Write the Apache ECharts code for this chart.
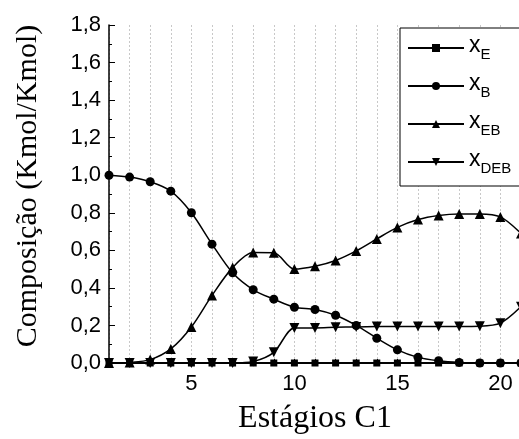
<!DOCTYPE html>
<html>
<head>
<meta charset="utf-8">
<script src="https://cdn.jsdelivr.net/npm/echarts@6/dist/echarts.min.js"></script>
<style>
  html, body { margin: 0; padding: 0; background: #fff; }
  #chart { width: 519px; height: 439px; }
</style>
</head>
<body>
<div id="chart"></div>
<script>
// stages of column C1
const stages = [1, 2, 3, 4, 5, 6, 7, 8, 9, 10, 11, 12, 13, 14, 15, 16, 17, 18, 19, 20, 21];

// composition profiles
const xE   = [0, 0, 0, 0, 0, 0, 0, 0, 0, 0, 0, 0, 0, 0, 0, 0, 0, 0, 0, 0, 0];
const xB   = [1.0, 0.99, 0.965, 0.915, 0.80, 0.633, 0.48, 0.39, 0.34, 0.297, 0.285, 0.254, 0.20, 0.132, 0.07, 0.03, 0.012, 0.003, 0, 0, 0];
const xEB  = [0, 0.003, 0.018, 0.075, 0.192, 0.36, 0.508, 0.588, 0.587, 0.50, 0.515, 0.546, 0.597, 0.661, 0.722, 0.764, 0.786, 0.794, 0.794, 0.778, 0.69];
const xDEB = [0, 0, 0, 0, 0, 0, 0, 0.008, 0.057, 0.187, 0.187, 0.19, 0.192, 0.194, 0.195, 0.195, 0.195, 0.195, 0.196, 0.212, 0.30];

const names = ['xE', 'xB', 'xEB', 'xDEB'];
const subs = { xE: 'E', xB: 'B', xEB: 'EB', xDEB: 'DEB' };

const chart = echarts.init(document.getElementById('chart'));

function pairs(arr) {
    return stages.map((s, i) => [s, arr[i]]);
}

function makeSeries(name, data, symbol, size, rotate) {
    return {
        name: name,
        type: 'line',
        data: pairs(data),
        smooth: 0.3,
        symbol: symbol,
        symbolSize: size,
        symbolRotate: rotate || 0,
        showAllSymbol: true,
        lineStyle: { color: '#000', width: 1.5 },
        itemStyle: { color: '#000' },
        clip: false
    };
}

const option = {
    animation: false,
    backgroundColor: '#fff',
    grid: { left: 109, top: 25, right: -2, bottom: 76, containLabel: false, outerBoundsMode: 'none' },
    legend: {
        orient: 'vertical',
        left: 400,
        top: 28,
        width: 130,
        padding: [6, 30, 10, 7],
        itemGap: 10,
        itemWidth: 56,
        itemHeight: 10,
        borderColor: '#000',
        borderWidth: 1,
        backgroundColor: '#fff',
        data: names,
        formatter: n => '{m|x}{s|' + subs[n] + '}',
        textStyle: {
            fontFamily: 'Liberation Sans',
            color: '#000',
            rich: {
                m: { fontFamily: 'Liberation Sans', fontSize: 23, color: '#000', lineHeight: 28, verticalAlign: 'top', padding: [0, 0, 0, 0] },
                s: { fontFamily: 'Liberation Sans', fontSize: 15, color: '#000', lineHeight: 28, verticalAlign: 'bottom', padding: [10, 0, 0, 0] }
            }
        }
    },
    xAxis: [{
        type: 'value',
        min: 1,
        max: 21,
        interval: 1,
        name: 'Estágios C1',
        nameLocation: 'middle',
        nameGap: 40,
        nameTextStyle: { fontFamily: 'Liberation Serif', fontSize: 32, color: '#000' },
        axisLine: { show: true, onZero: false, lineStyle: { color: '#000', width: 1.5 } },
        axisTick: { show: true, inside: true, length: 4, lineStyle: { color: '#000' } },
        axisLabel: {
            fontFamily: 'Liberation Sans', fontSize: 22, color: '#000', margin: 10,
            formatter: v => (v % 5 === 0 ? String(v) : '')
        },
        splitLine: { show: true, lineStyle: { color: '#c8c8c8', type: [2, 2], width: 1 } }
    }, {
        type: 'value',
        position: 'top',
        min: 1,
        max: 21,
        interval: 1,
        axisLine: { show: true, lineStyle: { color: '#000', width: 1.5 } },
        axisTick: { show: true, inside: true, length: 3, lineStyle: { color: '#000' } },
        axisLabel: { show: false },
        splitLine: { show: false }
    }],
    yAxis: {
        type: 'value',
        min: 0,
        max: 1.8,
        interval: 0.2,
        name: 'Composição (Kmol/Kmol)',
        nameLocation: 'middle',
        nameGap: 66,
        nameTextStyle: { fontFamily: 'Liberation Serif', fontSize: 30, color: '#000', padding: [0, 0, 0, 16] },
        axisLine: { show: true, lineStyle: { color: '#000', width: 1.5 } },
        axisTick: { show: true, inside: true, length: 6, lineStyle: { color: '#000' } },
        minorTick: { show: true, splitNumber: 2, length: 3, lineStyle: { color: '#000' } },
        axisLabel: {
            fontFamily: 'Liberation Sans', fontSize: 22, color: '#000', margin: 8,
            formatter: v => v.toFixed(1).replace('.', ',')
        },
        splitLine: { show: false }
    },
    series: [
        makeSeries('xE', xE, 'rect', 7),
        makeSeries('xB', xB, 'circle', 9),
        makeSeries('xEB', xEB, 'triangle', 10),
        makeSeries('xDEB', xDEB, 'triangle', 10, 180)
    ]
};

chart.setOption(option);
</script>
</body>
</html>
